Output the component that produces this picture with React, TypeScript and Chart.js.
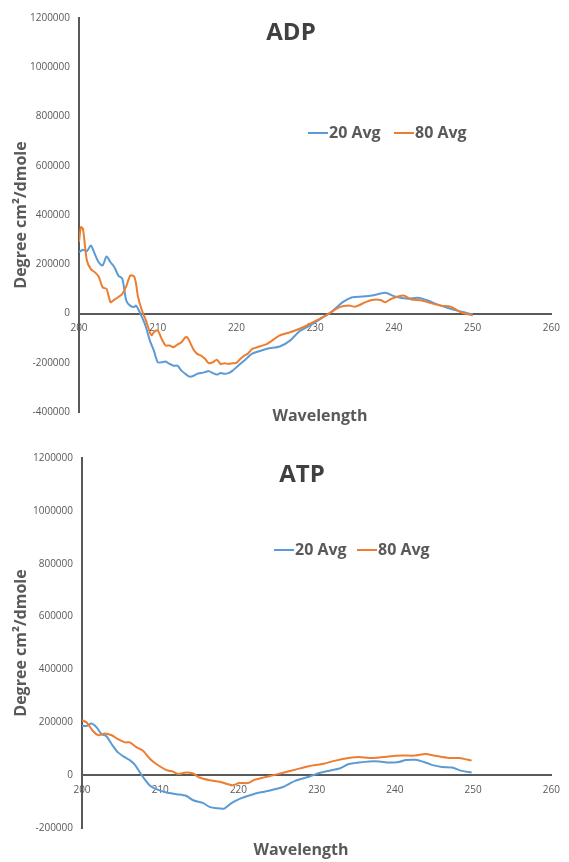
import React, { useEffect, useRef } from 'react';
import { Chart, registerables } from 'chart.js';

Chart.register(...registerables);

const BLUE = '#5B9BD5';
const ORANGE = '#ED7D31';
const AXIS = '#595959';
const FONT = '"Open Sans", "DejaVu Sans", sans-serif';

// ---------- Data (wavelength nm, degree cm^2/dmole) ----------
const seriesNames = ['20 Avg', '80 Avg'];
const xTicks = [200, 210, 220, 230, 240, 250, 260];
const yTicks = [-400000, -200000, 0, 200000, 400000, 600000, 800000, 1000000, 1200000];

const adpWl20 = [200, 200.5, 201, 201.5, 202, 202.5, 203, 203.5, 204, 204.5, 205, 205.5, 206, 206.5, 207, 207.25, 207.5, 208, 208.5, 209, 209.5, 210, 210.5, 211, 211.5, 212, 212.5, 213, 213.5, 214, 214.5, 215, 215.5, 216, 216.5, 217, 217.5, 218, 218.5, 219, 219.5, 220, 221, 222, 223, 224, 225.5, 226.8, 228, 229.3, 231, 232, 233.5, 234.7, 236, 237.2, 238.9, 240.1, 241.8, 243, 244.3, 245.5, 247.2, 248.9, 250];
const adp20 = [249000, 259000, 253000, 276000, 242000, 208000, 195000, 232000, 208000, 188000, 154000, 141000, 53000, 32000, 26000, 32000, 19000, -15000, -55000, -110000, -150000, -198000, -198000, -195000, -205000, -212000, -212000, -232000, -245000, -256000, -254000, -245000, -242000, -238000, -234000, -242000, -248000, -242000, -245000, -242000, -232000, -218000, -191000, -163000, -152000, -142000, -134000, -110000, -72000, -49000, -15000, 5000, 46000, 66000, 69000, 73000, 84000, 69000, 60000, 64000, 53000, 37000, 19000, 5000, -4000];

const adpWl80 = [200, 200.25, 200.5, 201, 201.5, 202, 202.5, 203, 203.5, 204, 204.5, 205, 205.5, 206, 206.5, 207, 207.25, 207.5, 208, 208.5, 209, 209.25, 209.5, 210, 210.5, 211, 211.5, 212, 212.5, 213, 213.5, 213.75, 214, 214.5, 215, 215.5, 216, 216.5, 217, 217.5, 218, 218.5, 219, 219.5, 220, 220.5, 221, 221.5, 222, 223, 223.9, 225.5, 226.8, 228, 229.3, 231, 232, 233.1, 234.3, 235.1, 236.4, 237.2, 238.3, 238.9, 239.7, 241.2, 242.2, 243.5, 244.7, 246, 247.2, 248.5, 250];
const adp80 = [290000, 351000, 344000, 215000, 180000, 168000, 150000, 106000, 100000, 46000, 56000, 67000, 80000, 110000, 154000, 150000, 120000, 67000, 12000, -28000, -76000, -89000, -76000, -69000, -103000, -130000, -130000, -137000, -126000, -117000, -97000, -97000, -110000, -144000, -164000, -171000, -184000, -202000, -198000, -188000, -205000, -202000, -205000, -202000, -201000, -184000, -171000, -161000, -144000, -133000, -123000, -89000, -76000, -62000, -42000, -15000, 5000, 26000, 32000, 28000, 46000, 55000, 55000, 46000, 60000, 73000, 57000, 53000, 42000, 32000, 28000, 5000, -8000];

const atpWl20 = [200, 200.6, 201.2, 201.9, 202.5, 203.1, 203.8, 204.6, 205.5, 206.1, 206.8, 207.4, 208, 208.7, 209.5, 210.8, 212.1, 213.3, 214.2, 215.5, 216.3, 217.2, 218.2, 219.1, 220.3, 221.6, 222.7, 223.9, 225.6, 227.3, 229, 230.3, 231.6, 232.9, 234.1, 235.4, 236.7, 238, 239.2, 240.5, 241.4, 242.6, 243.9, 244.8, 246, 247.3, 248.4, 249.8];
const atp20 = [186000, 186000, 195000, 180000, 155000, 148000, 117000, 86000, 67000, 57000, 38000, 10000, -15000, -40000, -53000, -66000, -72000, -78000, -95000, -106000, -120000, -125000, -126000, -106000, -88000, -75000, -66000, -59000, -46000, -21000, -6000, 8000, 17000, 25000, 42000, 48000, 52000, 52000, 48000, 50000, 57000, 58000, 48000, 38000, 31000, 29000, 17000, 10000];

const atpWl80 = [200, 200.6, 201.4, 202.1, 202.9, 203.8, 204.6, 205.5, 206.1, 207, 207.8, 208.7, 209.5, 210.8, 211.6, 212.3, 213.3, 214.2, 215, 216.3, 217.6, 218.6, 219.3, 220.1, 221.2, 222, 222.7, 223.9, 225.6, 227.3, 229, 230.7, 232.4, 234.1, 235.4, 236.7, 238, 239.2, 240.9, 242.6, 243.9, 245.2, 246.9, 248.2, 249.8];
const atp80 = [208000, 199000, 167000, 151000, 158000, 151000, 136000, 124000, 124000, 105000, 92000, 61000, 42000, 19000, 14000, 4000, 10000, 6000, -9000, -19000, -25000, -34000, -38000, -30000, -30000, -18000, -13000, -4000, 8000, 21000, 34000, 42000, 55000, 65000, 69000, 65000, 67000, 71000, 74000, 74000, 80000, 73000, 65000, 65000, 55000];

const toPoints = (xs: number[], ys: number[]) => xs.map((x, i) => ({ x, y: ys[i] }));

// ---------- Overlay plugin: title, legend, x-axis title ----------
const overlayPlugin = {
  id: 'overlay',
  afterDraw(chart: any, _args: any, opts: any) {
    const ctx: CanvasRenderingContext2D = chart.ctx;
    ctx.save();
    ctx.textBaseline = 'middle';
    // title
    ctx.font = `bold 24px ${FONT}`;
    ctx.fillStyle = '#404040';
    ctx.textAlign = 'center';
    ctx.fillText(opts.title, opts.titleX, opts.titleY);
    // legend
    ctx.font = `bold 16px ${FONT}`;
    ctx.textAlign = 'left';
    const colors = [BLUE, ORANGE];
    opts.legendX.forEach((lx: number, i: number) => {
      ctx.strokeStyle = colors[i];
      ctx.lineWidth = 2;
      ctx.beginPath();
      ctx.moveTo(lx, opts.legendY);
      ctx.lineTo(lx + 20, opts.legendY);
      ctx.stroke();
      ctx.fillStyle = AXIS;
      ctx.fillText(seriesNames[i], lx + 21, opts.legendY);
    });
    // x axis title
    ctx.font = `bold 16px ${FONT}`;
    ctx.textAlign = 'center';
    ctx.fillStyle = AXIS;
    ctx.fillText('Wavelength', opts.xTitleX, opts.xTitleY);
    ctx.restore();
  },
};

type Props = {
  height: number;
  data20: { x: number; y: number }[];
  data80: { x: number; y: number }[];
  yMin: number;
  padding: { top: number; bottom: number; right: number };
  axisLeft: number;
  overlay: any;
};

function CDChart(p: Props) {
  const ref = useRef<HTMLCanvasElement>(null);
  useEffect(() => {
    const chart = new Chart(ref.current as HTMLCanvasElement, {
      type: 'line',
      data: {
        datasets: [
          { label: seriesNames[0], data: p.data20, borderColor: BLUE, backgroundColor: BLUE, borderWidth: 2, pointRadius: 0, tension: 0.25, order: 1 },
          { label: seriesNames[1], data: p.data80, borderColor: ORANGE, backgroundColor: ORANGE, borderWidth: 2, pointRadius: 0, tension: 0.25, order: 0 },
        ],
      },
      options: {
        responsive: false,
        animation: false,
        layout: { padding: { left: 0, top: p.padding.top, bottom: p.padding.bottom, right: p.padding.right } },
        plugins: {
          legend: { display: false },
          tooltip: { enabled: false },
          overlay: p.overlay,
        } as any,
        scales: {
          x: {
            type: 'linear',
            min: 200,
            max: 260,
            position: { y: 0 } as any,
            grid: { display: false, drawTicks: false },
            border: { display: true, color: AXIS, width: 2 },
            afterBuildTicks: (s: any) => { s.ticks = xTicks.map((v) => ({ value: v })); },
            ticks: { color: AXIS, font: { size: 10, family: FONT }, padding: 9, maxRotation: 0, callback: (v: any) => String(v) },
          },
          y: {
            type: 'linear',
            min: p.yMin,
            max: 1200000,
            position: 'left',
            afterFit: (s: any) => { s.width = p.axisLeft; },
            afterBuildTicks: (s: any) => { s.ticks = yTicks.filter((v) => v >= p.yMin).map((v) => ({ value: v })); },
            grid: { display: false, drawTicks: false },
            border: { display: true, color: AXIS, width: 2 },
            ticks: { color: AXIS, font: { size: 10, family: FONT }, padding: 9, callback: (v: any) => String(v) },
            title: {
              display: true,
              text: 'Degree cm²/dmole',
              color: AXIS,
              font: { size: 16, weight: 'bold', family: FONT },
              padding: { top: 12, bottom: 0 },
            },
          },
        },
      },
      plugins: [overlayPlugin],
    } as any);
    return () => chart.destroy();
  }, []);
  return <canvas ref={ref} width={569} height={p.height} style={{ display: 'block' }} />;
}

export default function App() {
  return (
    <div style={{ position: 'absolute', left: 0, top: 0, width: 569, height: 862, background: '#fff' }}>
      <CDChart
        height={430}
        data20={toPoints(adpWl20, adp20)}
        data80={toPoints(adpWl80, adp80)}
        yMin={-400000}
        padding={{ top: 18, bottom: 18, right: 10 }}
        axisLeft={79}
        overlay={{ title: 'ADP', titleX: 291, titleY: 33, legendX: [308, 394], legendY: 133, xTitleX: 320, xTitleY: 416 }}
      />
      <CDChart
        height={432}
        data20={toPoints(atpWl20, atp20)}
        data80={toPoints(atpWl80, atp80)}
        yMin={-200000}
        padding={{ top: 28, bottom: 34, right: 16 }}
        axisLeft={82}
        overlay={{ title: 'ATP', titleX: 302, titleY: 45, legendX: [274, 357], legendY: 120, xTitleX: 301, xTitleY: 420 }}
      />
    </div>
  );
}
